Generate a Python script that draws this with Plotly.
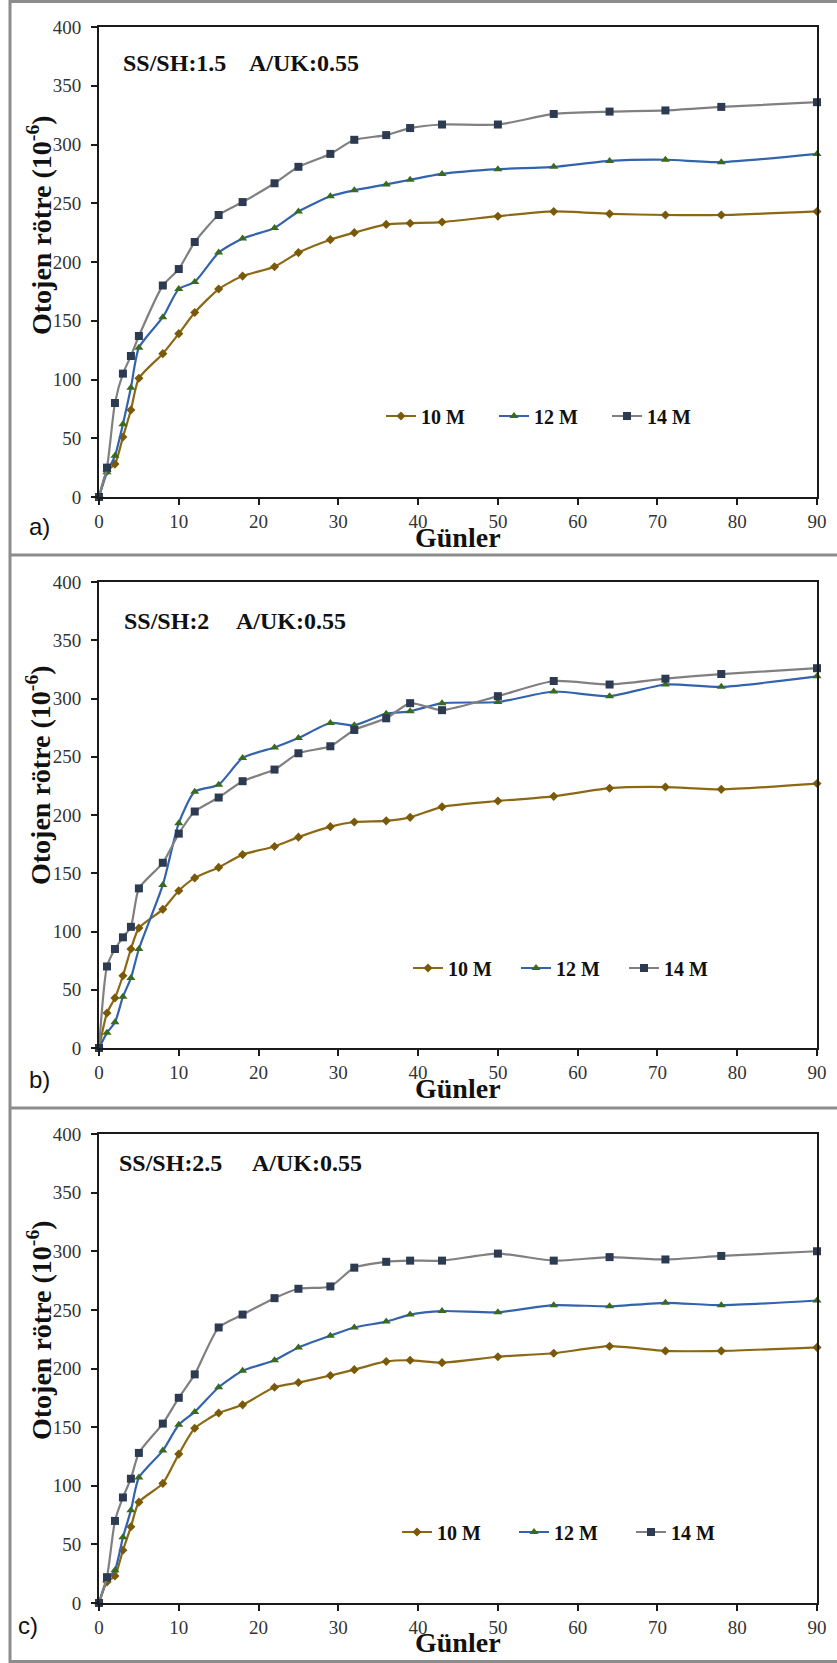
import plotly.graph_objects as go

# ---------------- data ----------------
days = [0, 1, 2, 3, 4, 5, 8, 10, 12, 15, 18, 22, 25, 29, 32, 36, 39, 43, 50, 57, 64, 71, 78, 90]
series_names = ["10 M", "12 M", "14 M"]

a_10 = [0, 22, 28, 51, 74, 101, 122, 139, 157, 177, 188, 196, 208, 219, 225, 232, 233, 234, 239, 243, 241, 240, 240, 243]
a_12 = [0, 21, 35, 62, 93, 127, 153, 177, 183, 208, 220, 229, 243, 256, 261, 266, 270, 275, 279, 281, 286, 287, 285, 292]
a_14 = [0, 25, 80, 105, 120, 137, 180, 194, 217, 240, 251, 267, 281, 292, 304, 308, 314, 317, 317, 326, 328, 329, 332, 336]

b_10 = [0, 30, 43, 62, 85, 103, 119, 135, 146, 155, 166, 173, 181, 190, 194, 195, 198, 207, 212, 216, 223, 224, 222, 227]
b_12 = [0, 13, 22, 44, 60, 85, 140, 193, 220, 226, 249, 258, 266, 279, 277, 287, 289, 296, 297, 306, 302, 312, 310, 319]
b_14 = [0, 70, 85, 95, 104, 137, 159, 184, 203, 215, 229, 239, 253, 259, 273, 283, 296, 290, 302, 315, 312, 317, 321, 326]

c_10 = [0, 18, 23, 45, 65, 86, 102, 127, 149, 162, 169, 184, 188, 194, 199, 206, 207, 205, 210, 213, 219, 215, 215, 218]
c_12 = [0, 20, 28, 56, 79, 107, 130, 152, 163, 184, 198, 207, 218, 228, 235, 240, 246, 249, 248, 254, 253, 256, 254, 258]
c_14 = [0, 22, 70, 90, 106, 128, 153, 175, 195, 235, 246, 260, 268, 270, 286, 291, 292, 292, 298, 292, 295, 293, 296, 300]

ratio_labels = ["SS/SH:1.5", "SS/SH:2", "SS/SH:2.5"]
wc_label = "A/UK:0.55"
panel_labels = ["a)", "b)", "c)"]
x_title = "Günler"
y_title = "Otojen rötre (10<sup>-6</sup>)"
x_ticks = [0, 10, 20, 30, 40, 50, 60, 70, 80, 90]
y_ticks = [0, 50, 100, 150, 200, 250, 300, 350, 400]

# ---------------- layout helpers ----------------
W, H = 837, 1663


def px(x):
    return x / W


def py(y):
    return 1 - y / H


line_colors = ["#8B6914", "#3463AE", "#808080"]
marker_colors = ["#7A5A08", "#3A6A1E", "#2C3A52"]
marker_symbols = ["diamond", "triangle-up", "square"]
marker_sizes = [7, 8, 8]

SERIF = "Liberation Serif, Times New Roman, Times, serif"

panels = [
    dict(vals=(a_10, a_12, a_14), top=27, bottom=497, ytitle_c=225, xtitle_c=537,
         ann_y=63, ann_x1=121, ann_x2=247, lab_x=27, lab_y=526,
         leg_x=381, leg_y=416, leg_w=68),
    dict(vals=(b_10, b_12, b_14), top=582, bottom=1048, ytitle_c=775, xtitle_c=1088,
         ann_y=621, ann_x1=122, ann_x2=234, lab_x=27, lab_y=1079,
         leg_x=408, leg_y=968, leg_w=63),
    dict(vals=(c_10, c_12, c_14), top=1134, bottom=1603, ytitle_c=1330, xtitle_c=1642,
         ann_y=1163, ann_x1=117, ann_x2=250, lab_x=16, lab_y=1625,
         leg_x=397, leg_y=1532, leg_w=72),
]

fig = go.Figure()
annotations = []
layout_updates = {}

for i, p in enumerate(panels):
    sfx = "" if i == 0 else str(i + 1)
    legname = "legend" if i == 0 else f"legend{i + 1}"
    for j, name in enumerate(series_names):
        fig.add_trace(go.Scatter(
            x=days, y=p["vals"][j], name=name, mode="lines+markers",
            xaxis="x" + sfx, yaxis="y" + sfx, legend=legname,
            line=dict(color=line_colors[j], width=2.2, shape="spline", smoothing=0.6),
            marker=dict(symbol=marker_symbols[j], size=marker_sizes[j], color=marker_colors[j],
                        line=dict(width=0)),
            cliponaxis=False,
        ))

    axis_common = dict(
        showline=True, mirror=True, linecolor="#1a1a1a", linewidth=2,
        ticks="outside", ticklen=6, tickwidth=2, tickcolor="#1a1a1a",
        showgrid=False, zeroline=False, automargin=False,
        tickfont=dict(family=SERIF, size=19, color="#333333"),
    )
    layout_updates["xaxis" + sfx] = dict(
        axis_common, domain=[px(99), px(817)], range=[0, 90],
        tickvals=x_ticks, anchor="y" + sfx, ticklabelstandoff=0,
    )
    layout_updates["yaxis" + sfx] = dict(
        axis_common, domain=[py(p["bottom"]), py(p["top"])], range=[0, 400],
        tickvals=y_ticks, anchor="x" + sfx, ticklabelstandoff=6,
    )
    layout_updates[legname] = dict(
        orientation="h", x=px(p["leg_x"]), y=py(p["leg_y"]), xanchor="left", yanchor="middle",
        font=dict(family=SERIF, size=20, color="#111111", weight="bold"),
        bgcolor="rgba(0,0,0,0)", entrywidth=p["leg_w"], entrywidthmode="pixels",
        tracegroupgap=0, itemclick=False,
    )

    annotations += [
        dict(text=ratio_labels[i], x=px(p["ann_x1"]), y=py(p["ann_y"]), xref="paper", yref="paper",
             xanchor="left", yanchor="middle", showarrow=False,
             font=dict(family=SERIF, size=24, color="#111111", weight="bold")),
        dict(text=wc_label, x=px(p["ann_x2"]), y=py(p["ann_y"]), xref="paper", yref="paper",
             xanchor="left", yanchor="middle", showarrow=False,
             font=dict(family=SERIF, size=24, color="#111111", weight="bold")),
        dict(text=x_title, x=px(458), y=py(p["xtitle_c"]), xref="paper", yref="paper",
             xanchor="center", yanchor="middle", showarrow=False,
             font=dict(family=SERIF, size=28, color="#111111", weight="bold")),
        dict(text=y_title, x=px(39), y=py(p["ytitle_c"]), xref="paper", yref="paper",
             xanchor="center", yanchor="middle", showarrow=False, textangle=-90,
             font=dict(family=SERIF, size=28, color="#111111", weight="bold")),
        dict(text=panel_labels[i], x=px(p["lab_x"]), y=py(p["lab_y"]), xref="paper", yref="paper",
             xanchor="left", yanchor="middle", showarrow=False,
             font=dict(family="Liberation Sans, Arial, sans-serif", size=24, color="#111111")),
    ]

shapes = []
border_color = "#8c8c8c"
shapes.append(dict(type="line", xref="paper", yref="paper", x0=px(10), x1=px(10), y0=0, y1=1,
                   line=dict(color=border_color, width=3)))
for yy in [1.5, 555, 1108, 1661.5]:
    shapes.append(dict(type="line", xref="paper", yref="paper", x0=px(10), x1=1, y0=py(yy), y1=py(yy),
                       line=dict(color=border_color, width=3)))

fig.update_layout(
    width=W, height=H, margin=dict(l=0, r=0, t=0, b=0, pad=0, autoexpand=False),
    paper_bgcolor="white", plot_bgcolor="white",
    showlegend=True, annotations=annotations, shapes=shapes,
    **layout_updates,
)

# remove the default page margin so the figure fills the window exactly
fig.write_html(
    "out.html",
    config={"displayModeBar": False},
    post_script="document.body.style.margin='0';document.body.style.overflow='hidden';",
)
